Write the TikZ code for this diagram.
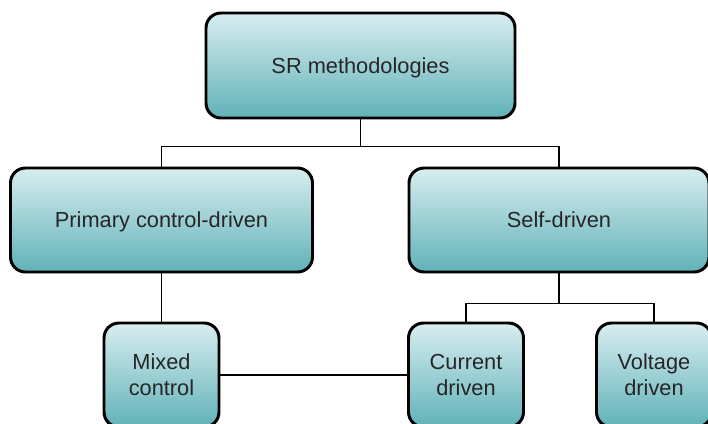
\documentclass[tikz,border=0pt]{standalone}
\usepackage{fontspec}
\setmainfont{Liberation Sans}
\definecolor{boxTop}{RGB}{216,237,240}
\definecolor{boxMid}{RGB}{194,227,231}
\definecolor{boxBot}{RGB}{96,178,184}
\definecolor{txtGray}{RGB}{38,38,38}
\begin{document}
\begin{tikzpicture}[box/.style={shape=rectangle,rounded corners=0.3cm,draw=black,line width=1.7pt,top color=boxTop,middle color=boxMid,bottom color=boxBot,text=txtGray,align=center,inner sep=0pt,text depth=0pt,font=\fontsize{12.4}{14.8}\selectfont},boxW/.style={box,minimum width=6.04cm,minimum height=2.08cm},boxS/.style={box,minimum width=2.3cm,minimum height=2.08cm},link/.style={line width=0.8pt}]
\def\dya{0.54}
\def\dyb{0.6}

\clip (0,0) rectangle (14.16,-8.48);

\node[box,minimum width=6.18cm,minimum height=2.1cm] (SR) at (7.21,-1.31) {SR methodologies};

\node[boxW] (PC) at (3.23,-4.40) {Primary control-driven};
\draw[link] (SR.south) -- ++(0,-\dya) -| (PC.north);
\node[boxW,minimum width=6.0cm] (SD) at (11.18,-4.40) {Self-driven};
\draw[link] (SR.south) -- ++(0,-\dya) -| (SD.north);

\node[boxS] (MC) at (3.23,-7.50) {Mixed\\control};
\draw[link] (PC.south) -- (MC.north);
\node[boxS] (CD) at (9.32,-7.50) {Current\\driven};
\draw[link] (SD.south) -- ++(0,-\dyb) -| (CD.north);
\node[boxS] (VD) at (13.08,-7.50) {Voltage\\driven};
\draw[link] (SD.south) -- ++(0,-\dyb) -| (VD.north);

\draw[link] (MC.east) -- (CD.west);
\end{tikzpicture}
\end{document}
